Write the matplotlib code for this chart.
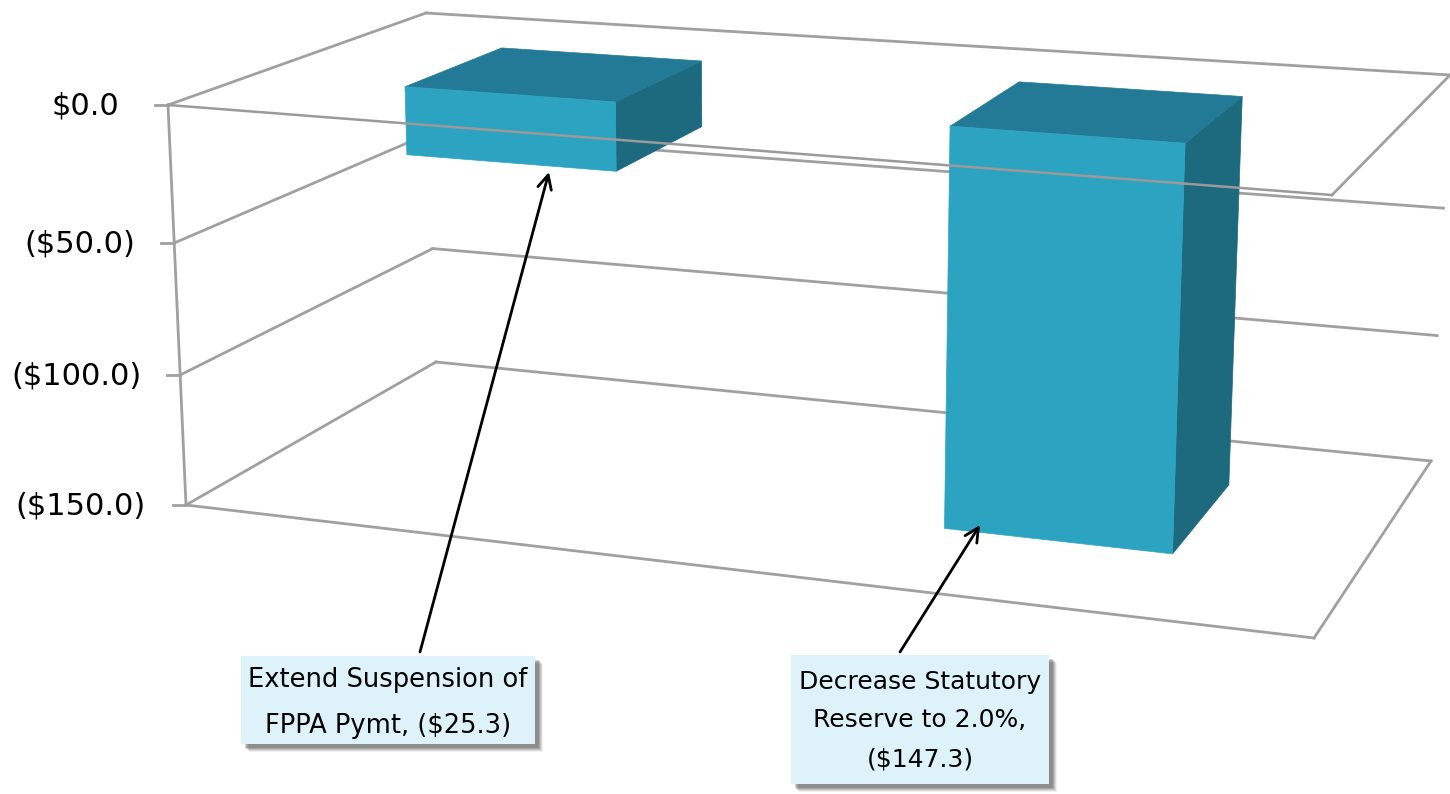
import numpy as np
import matplotlib
matplotlib.use("Agg")
import matplotlib.pyplot as plt
from matplotlib.patches import Polygon, Rectangle

# ---- data
categories = ["Extend Suspension of\nFPPA Pymt, ($25.3)",
              "Decrease Statutory\nReserve to 2.0%,\n($147.3)"]
values = [-25.3, -147.3]
tick_values = [0.0, -50.0, -100.0, -150.0]
tick_labels = ["$0.0", "($50.0)", "($100.0)", "($150.0)"]

# ---- 3-D projection set up (pixel frame of the picture)
TOP = dict(A=(168, 105), B=(1332, 195), C=(1450, 75), D=(426, 13))
FLOOR = dict(A=(186, 505), B=(1314, 638), C=(1431, 461), D=(436, 362))
DEPTH_FRAC = [1.0, 0.675, 0.345, 0.0]      # perspective of the value axis
DEPTH_VAL = [-150.0, -100.0, -50.0, 0.0]


def bil(pl, x, z):
    a, b, c, d = [np.array(pl[k], float) for k in "ABCD"]
    return (1 - x) * (1 - z) * a + x * (1 - z) * b + (1 - x) * z * d + x * z * c


def proj(x, v, z):
    t = np.interp(v, DEPTH_VAL, DEPTH_FRAC)
    return (1 - t) * bil(TOP, x, z) + t * bil(FLOOR, x, z)


fig = plt.figure(figsize=(14.5, 7.94), dpi=100)
ax = fig.add_axes([0, 0, 1, 1])
ax.set_xlim(0, 1450)
ax.set_ylim(794, 0)
ax.axis("off")
plt.rcParams["font.family"] = ["DejaVu Sans"]

GRID = "#a0a0a0"
LW = 2.0


def seg(p, q, z=1, color=GRID, lw=LW):
    ax.plot([p[0], q[0]], [p[1], q[1]], color=color, lw=lw, zorder=z,
            solid_capstyle="projecting")


vmin = min(tick_values)
# back-wall and side-wall gridlines, floor and top outline
for v in tick_values:
    seg(proj(0, v, 0), proj(0, v, 1))
    seg(proj(0, v, 1), proj(1, v, 1))
seg(proj(0, 0, 0), proj(0, vmin, 0))
seg(proj(1, 0, 1), proj(1, 0, 0))
seg(proj(1, vmin, 1), proj(1, vmin, 0))
seg(proj(0, vmin, 0), proj(1, vmin, 0))

# value-axis tick marks and labels
gaps = [36, 26, 26, 27]
for v, lab, g in zip(tick_values, tick_labels, gaps):
    p = proj(0, v, 0)
    seg((p[0] - 13, p[1]), p)
    ax.text(p[0] - 13 - g, p[1] + 1, lab, ha="right", va="center",
            fontsize=22, color="black")

# bars
bar_x = [(0.138, 0.326), (0.625, 0.835)]
Z0, Z1 = 0.32, 0.725
C_FRONT, C_TOP, C_SIDE = "#2ca4c1", "#237a96", "#1d697e"
for (x0, x1), val in zip(bar_x, values):
    top = [proj(x0, 0, Z0), proj(x1, 0, Z0), proj(x1, 0, Z1), proj(x0, 0, Z1)]
    front = [proj(x0, 0, Z0), proj(x1, 0, Z0), proj(x1, val, Z0), proj(x0, val, Z0)]
    side = [proj(x1, 0, Z0), proj(x1, 0, Z1), proj(x1, val, Z1), proj(x1, val, Z0)]
    for pts, c in ((side, C_SIDE), (top, C_TOP), (front, C_FRONT)):
        ax.add_patch(Polygon(pts, closed=True, fc=c, ec=c, lw=0.5, zorder=3))

# front edge of the zero plane runs over the bars
seg(proj(0, 0, 0), proj(1, 0, 0), z=4, color="#9a9a9a", lw=LW * 0.9)

# callouts
boxes = [(241, 656, 294, 88), (791, 655, 258, 129)]
arrow_from = [(420, 652), (900, 652)]
arrow_to = [(549, 172), (980, 525)]
spacing = [2.0, 1.78]
text_size = [18.5, 18.0]
text_shift = [3, 1]
for cat, (bx, by, bw, bh), a, b, sp, fs, ts in zip(categories, boxes, arrow_from,
                                                   arrow_to, spacing, text_size, text_shift):
    ax.annotate("", xy=b, xytext=a,
                arrowprops=dict(arrowstyle="->,head_length=1.0,head_width=0.5",
                                color="black", lw=2, shrinkA=0, shrinkB=0),
                zorder=6)
    for off, al in ((8, 0.08), (7, 0.12), (6, 0.16), (5, 0.2), (4, 0.25)):
        ax.add_patch(Rectangle((bx + off, by + off), bw, bh, fc="#404040",
                               ec="none", alpha=al, zorder=5))
    ax.add_patch(Rectangle((bx, by), bw, bh, fc="#ddf3f9", ec="none", zorder=5.5))
    ax.text(bx + bw / 2, by + bh / 2 + ts, cat, ha="center", va="center",
            fontsize=fs, color="black", linespacing=sp, zorder=6)

fig.savefig("out.png", dpi=100)
